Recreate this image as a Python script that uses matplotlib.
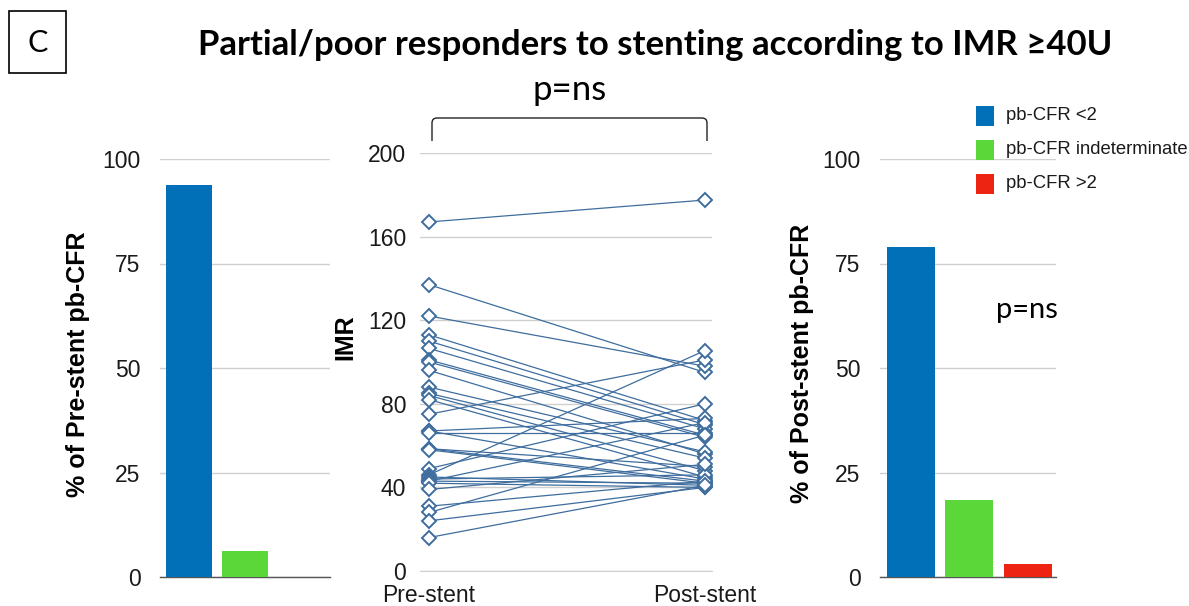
import matplotlib
matplotlib.use("Agg")
import matplotlib.pyplot as plt
from matplotlib.patches import Rectangle
from matplotlib.path import Path
from matplotlib.patches import PathPatch

# ---------------- data ----------------
bar_categories = ["pb-CFR <2", "pb-CFR indeterminate", "pb-CFR >2"]
bar_colors = ["#0270B8", "#5BD73A", "#EE2412"]
pre_stent_pct = [93.75, 6.25, 0.0]
post_stent_pct = [79.0, 18.5, 3.1]
bar_ticks = [0, 25, 50, 75, 100]

imr_timepoints = ["Pre-stent", "Post-stent"]
imr_pre = [167, 137, 122, 113, 110, 106.5, 101, 100, 96, 88, 85, 84, 82, 75, 67, 67,
           66, 58.5, 58.5, 58, 49, 46, 45, 44, 43, 43, 42, 39, 31, 28, 24, 16]
imr_post = [177.5, 95, 98, 72, 70, 68, 65, 64, 56, 57, 54, 48, 45, 101, 44, 73,
            66, 43, 50, 42, 80, 105.5, 41, 46, 42, 71, 40, 51, 43, 65, 40, 41]
imr_ticks = [0, 40, 80, 120, 160, 200]

title = "Partial/poor responders to stenting according to IMR \u226540U"
panel_label = "C"
p_text = "p=ns"

# ---------------- figure ----------------
W, H = 1189, 606
fig = plt.figure(figsize=(W / 100, H / 100), dpi=100)
fig.patch.set_facecolor("white")

def fx(px):
    return px / W

def fy(py):
    return 1 - py / H

TICKFONT = dict(family="Liberation Sans", size=16.5)
LABFONT = dict(family="Liberation Sans", size=18, weight="bold")
GRID = "#d0d0d0"


def bar_panel(left_px, right_px, values, ylabel, xlim, label_x):
    ax = fig.add_axes([fx(left_px), fy(577), fx(right_px - left_px), (577 - 159) / H])
    ax.bar(range(len(values)), values, width=0.82, color=bar_colors, zorder=3)
    ax.set_xlim(*xlim)
    ax.set_ylim(0, 100)
    ax.set_yticks(bar_ticks)
    ax.set_yticklabels([str(t) for t in bar_ticks], **TICKFONT, color="#1a1a1a")
    ax.set_xticks([])
    for s in ["top", "right", "left"]:
        ax.spines[s].set_visible(False)
    ax.spines["bottom"].set_color("#555555")
    ax.spines["bottom"].set_linewidth(1.0)
    ax.tick_params(axis="y", length=0, pad=14)
    ax.grid(axis="y", color=GRID, linewidth=1.0, zorder=0)
    ax.set_axisbelow(True)
    ax.set_ylabel(ylabel, **LABFONT)
    ax.yaxis.set_label_coords(label_x, 0.51)
    return ax


ax_l = bar_panel(160, 330, pre_stent_pct, "% of Pre-stent pb-CFR", (-0.52, 2.52), -0.41)
ax_r = bar_panel(880, 1056, post_stent_pct, "% of Post-stent pb-CFR", (-0.53, 2.48), -0.373)
fig.text(fx(1027), fy(310), p_text, ha="center", va="center", family="Lato", fontsize=21)

# middle panel
ax_m = fig.add_axes([fx(420), fy(571), fx(292), (571 - 153) / H])
line_col = "#3E6D9E"
for a, b in zip(imr_pre, imr_post):
    ax_m.plot([0, 1], [a, b], color=line_col, linewidth=0.9, zorder=3)
ax_m.plot([0] * len(imr_pre), imr_pre, linestyle="none", marker="D", markersize=7,
          markerfacecolor="white", markeredgecolor=line_col, markeredgewidth=1.4, zorder=4)
ax_m.plot([1] * len(imr_post), imr_post, linestyle="none", marker="D", markersize=7,
          markerfacecolor="white", markeredgecolor=line_col, markeredgewidth=1.4, zorder=4)
ax_m.set_xlim(-9 / 276, 1 + 7 / 276)
ax_m.set_ylim(0, 200)
ax_m.set_yticks(imr_ticks)
ax_m.set_yticklabels([str(t) for t in imr_ticks], **TICKFONT, color="#1a1a1a")
ax_m.set_xticks([0, 1])
ax_m.set_xticklabels(imr_timepoints, **TICKFONT, color="#1a1a1a")
ax_m.tick_params(axis="x", length=0, pad=9)
ax_m.tick_params(axis="y", length=0, pad=10)
for s in ["top", "right", "left"]:
    ax_m.spines[s].set_visible(False)
ax_m.spines["bottom"].set_color(GRID)
ax_m.grid(axis="y", color=GRID, linewidth=1.0, zorder=0)
ax_m.set_axisbelow(True)
ax_m.set_ylabel("IMR", **LABFONT)
ax_m.yaxis.set_label_coords(-0.216, 0.56)

# bracket above middle panel
bx0, bx1, by_top, by_bot, r = 432, 707, 118, 141, 5
verts = [(fx(bx0), fy(by_bot)), (fx(bx0), fy(by_top + r)), (fx(bx0), fy(by_top)),
         (fx(bx0 + r), fy(by_top)), (fx(bx1 - r), fy(by_top)), (fx(bx1), fy(by_top)),
         (fx(bx1), fy(by_top + r)), (fx(bx1), fy(by_bot))]
codes = [Path.MOVETO, Path.LINETO, Path.CURVE3, Path.CURVE3, Path.LINETO,
         Path.CURVE3, Path.CURVE3, Path.LINETO]
fig.patches.append(PathPatch(Path(verts, codes), transform=fig.transFigure,
                             facecolor="none", edgecolor="#222222", linewidth=1.0))
fig.text(fx(570), fy(90), p_text, ha="center", va="center", family="Lato", fontsize=25)

# title and panel label
fig.text(fx(655), fy(45), title, ha="center", va="center", family="Lato",
         weight="bold", fontsize=25)
fig.patches.append(Rectangle((fx(9), fy(73)), fx(57), (73 - 11) / H, transform=fig.transFigure,
                             facecolor="none", edgecolor="black", linewidth=1.2))
fig.text(fx(37.5), fy(43), panel_label, ha="center", va="center", family="Lato", fontsize=22)

# legend
leg_y = [116, 150, 184]
for cat, col, y in zip(bar_categories, bar_colors, leg_y):
    fig.patches.append(Rectangle((fx(976), fy(y + 10)), fx(18), 20 / H,
                                 transform=fig.transFigure, facecolor=col, edgecolor="none"))
    fig.text(fx(1006), fy(y), cat, ha="left", va="center", family="Liberation Sans",
             fontsize=13.3, color="#1a1a1a")

fig.savefig("out.png", dpi=100, facecolor="white")
